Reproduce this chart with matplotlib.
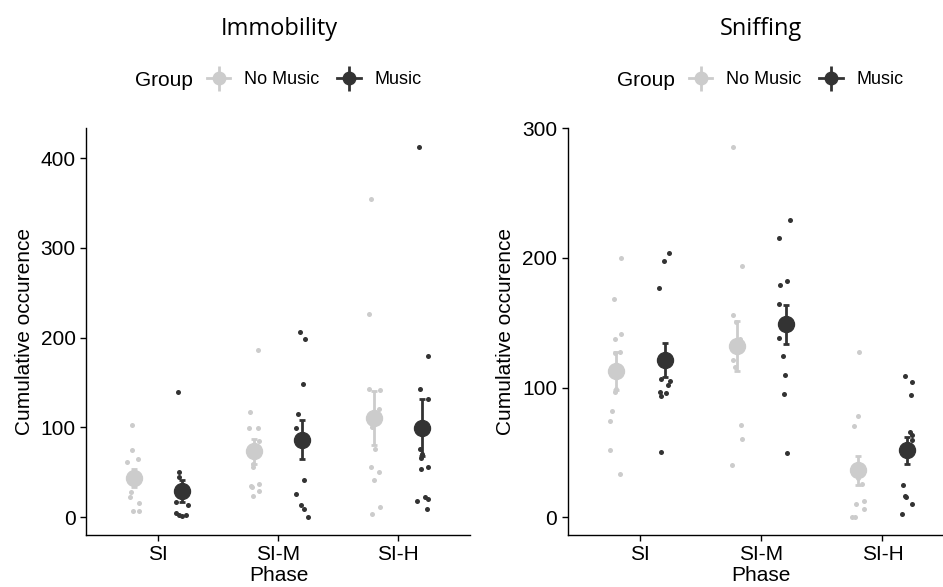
import numpy as np
import matplotlib.pyplot as plt
from matplotlib.lines import Line2D
from matplotlib.legend_handler import HandlerTuple

# ---------------------------------------------------------------------------
# Data
# ---------------------------------------------------------------------------
phases = ["SI", "SI-M", "SI-H"]
groups = ["No Music", "Music"]

# Immobility - individual animals per phase
imm_nomusic = [
    [103, 75, 65, 62, 50, 28, 23, 15.6, 7.4, 6.7],
    [186.8, 117.6, 99.7, 99.7, 84.9, 59.6, 55.8, 37.2, 34.3, 33.5, 28.7, 23.1],
    [355, 226, 143.3, 142.2, 121, 100.5, 75.9, 55.8, 50.2, 41, 11.2, 3.7],
]
imm_music = [
    [140, 50, 44.5, 27, 16.7, 13.7, 4.8, 3, 1.1, 3],
    [206.5, 198.3, 148.8, 115.4, 99.7, 41.7, 26.1, 13.8, 9.3, 0.8],
    [413, 179.7, 142.5, 132.1, 75.9, 70, 66.3, 55.8, 53.6, 22.3, 19.8, 18.6, 9.3],
]
imm_nomusic_mean = [44, 73.3, 110.5]
imm_nomusic_se = [10, 14.2, 29.6]
imm_music_mean = [29, 86.3, 99.7]
imm_music_se = [12, 21.8, 32]

# Sniffing - individual animals per phase
snf_nomusic = [
    [200.1, 168.2, 141.6, 137.8, 127.5, 127, 99, 96.6, 81.9, 73.9, 52, 33.5],
    [285.9, 193.7, 155.8, 150.7, 137.8, 121, 115.9, 71.3, 60.5, 40.4],
    [127.5, 77.8, 70, 30, 25.8, 12.4, 10.3, 6.4, 0.5, 0.5],
]
snf_music = [
    [204, 197.5, 176.9, 106.9, 105.1, 101.7, 96.6, 95.8, 93.2, 50.2],
    [229.2, 215, 182.3, 179, 164.3, 138.3, 124.1, 109.5, 94.8, 49.4],
    [109.2, 104.6, 94, 65.7, 63.1, 59.7, 24.5, 16.2, 15.5, 10.3, 2.1],
]
snf_nomusic_mean = [112.8, 131.9, 36]
snf_nomusic_se = [14.8, 19.3, 11.2]
snf_music_mean = [121, 148.6, 51.5]
snf_music_se = [13, 14.8, 10.3]

# horizontal jitter of the individual points (category units)
imm_nomusic_jit = [
    [-0.016, -0.016, 0.034, -0.057, 0, -0.024, -0.032, 0.042, -0.011, 0.039],
    [0.033, -0.033, -0.038, 0.033, 0.045, -0.005, -0.005, 0.045, -0.027, -0.017, 0.045, -0.005],
    [-0.027, -0.044, -0.039, 0.050, 0.039, -0.014, 0.008, -0.027, 0.041, 0.002, 0.047, -0.017],
]
imm_music_jit = [
    [-0.032, -0.023, -0.029, -0.042, -0.046, 0.046, -0.051, -0.023, -0.001, 0.032],
    [-0.015, 0.021, 0.007, -0.037, -0.048, 0.018, -0.048, -0.010, 0.018, 0.046],
    [-0.028, 0.051, -0.020, 0.049, -0.017, 0.002, -0.009, 0.051, -0.007, 0.027, 0.049, -0.042, 0.043],
]
snf_nomusic_jit = [
    [0.037, -0.021, 0.037, -0.007, 0.029, -0.012, 0, -0.010, -0.031, -0.054, -0.048, 0.029],
    [-0.037, 0.037, -0.037, -0.009, 0.024, -0.037, -0.021, 0.032, 0.037, -0.046],
    [0.004, -0.002, -0.035, 0, 0.035, 0.046, -0.015, 0.046, -0.051, -0.023],
]
snf_music_jit = [
    [0.034, -0.005, -0.049, -0.027, 0.042, 0.031, -0.041, 0.015, -0.027, -0.032],
    [0.040, -0.057, 0.009, -0.046, -0.057, -0.057, -0.024, -0.002, -0.016, 0.012],
    [-0.016, 0.040, 0.034, 0.026, 0.040, 0.045, -0.030, -0.016, -0.002, 0.040, -0.038],
]

# ---------------------------------------------------------------------------
# Style
# ---------------------------------------------------------------------------
plt.rcParams['font.family'] = ['Liberation Sans', 'DejaVu Sans']

LIGHT = '#cccccc'
DARK = '#333333'
DODGE = 0.2
W, H = 943, 587

fig = plt.figure(figsize=(W / 100, H / 100), dpi=100)


def draw_panel(ax, title, center_px, nm, nm_jit, m, m_jit,
               nm_mean, nm_se, m_mean, m_se, yticks, xmax):
    # raw points
    for k in range(len(phases)):
        for vals, jit, off, col in [(nm[k], nm_jit[k], -DODGE, LIGHT),
                                    (m[k], m_jit[k], DODGE, DARK)]:
            xs = k + 1 + off + np.array(jit)
            ax.scatter(xs, vals, s=13, color=col, linewidths=0, zorder=2)

    # mean +/- se
    xc = np.arange(1, len(phases) + 1)
    for mean, se, off, col in [(nm_mean, nm_se, -DODGE, LIGHT),
                               (m_mean, m_se, DODGE, DARK)]:
        ax.errorbar(xc + off, mean, yerr=se, fmt='o', ms=11.5, color=col,
                    elinewidth=2.0, capsize=2.2, capthick=2.0, zorder=3)

    # ggplot-like 5% expansion
    allv = np.concatenate([np.concatenate(nm), np.concatenate(m)])
    lo, hi = allv.min(), allv.max()
    pad = 0.05 * (hi - lo)
    ax.set_ylim(lo - pad, hi + pad)
    ax.set_xlim(0.4, xmax)

    ax.set_xticks(xc)
    ax.set_xticklabels(phases)
    ax.set_yticks(yticks)
    ax.set_xlabel('Phase', fontsize=15, labelpad=3.5)
    # keep "Phase" centred under the panel's category span
    ax_px = ax.get_position().x0 * W
    ax_w = ax.get_position().width * W
    ax.xaxis.set_label_coords((center_px - ax_px) / ax_w, -0.075)
    ax.set_ylabel('Cumulative occurence', fontsize=15, labelpad=5)
    for s in ['top', 'right']:
        ax.spines[s].set_visible(False)
    for s in ['left', 'bottom']:
        ax.spines[s].set_linewidth(1.0)
    ax.tick_params(length=4, width=1.0, labelsize=15, pad=3.5, colors='black')

    # title
    fig.text(center_px / W, 1 - 29 / H, title, ha='center', va='center',
             fontsize=17, family='Open Sans')

    # legend: "Group" + two pointrange keys
    ly = 1 - 80 / H
    fig.text((center_px - 86) / W, ly, 'Group', ha='right', va='center', fontsize=15)
    handles = []
    for col in [LIGHT, DARK]:
        hline = Line2D([], [], color=col, lw=2.0)
        vline = Line2D([], [], color=col, marker='|', ms=18, mew=2.0, ls='none')
        dot = Line2D([], [], color=col, marker='o', ms=9, ls='none')
        handles.append((hline, vline, dot))
    ax.legend(handles, groups, handler_map={tuple: HandlerTuple(ndivide=1)},
              loc='center left', bbox_to_anchor=((center_px - 72) / W, ly),
              bbox_transform=fig.transFigure, ncol=2, frameon=False,
              fontsize=13, borderpad=0, borderaxespad=0, numpoints=1,
              handlelength=1.3, handletextpad=0.75, columnspacing=1.0)


bottom = (H - 535) / H
height = (535 - 128) / H

ax1 = fig.add_axes([86 / W, bottom, (470 - 86) / W, height])
draw_panel(ax1, 'Immobility', 279, imm_nomusic, imm_nomusic_jit, imm_music, imm_music_jit,
           imm_nomusic_mean, imm_nomusic_se, imm_music_mean, imm_music_se,
           [0, 100, 200, 300, 400], 3.6)

ax2 = fig.add_axes([567.7 / W, bottom, (W - 567.7) / W, height])
draw_panel(ax2, 'Sniffing', 761, snf_nomusic, snf_nomusic_jit, snf_music, snf_music_jit,
           snf_nomusic_mean, snf_nomusic_se, snf_music_mean, snf_music_se,
           [0, 100, 200, 300], 3.5)

fig.savefig('out.png', dpi=100)
